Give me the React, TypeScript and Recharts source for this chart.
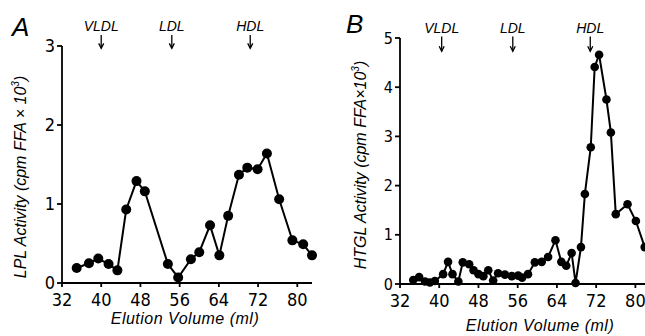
import React from "react";
import { LineChart, Line, XAxis, YAxis, ReferenceLine } from "recharts";

// Panel A: lipoprotein lipase activity across the elution profile
const lplVolume = [35, 37.5, 39.4, 41.5, 43.3, 45.1, 47.2, 48.9, 53.6, 55.7, 58.3, 60.0, 62.2, 64.1, 65.9, 68.1, 69.8, 71.9, 73.8, 76.3, 79.0, 81.2, 83.0];
const lplActivity = [0.19, 0.25, 0.31, 0.24, 0.16, 0.93, 1.29, 1.16, 0.24, 0.07, 0.3, 0.39, 0.73, 0.35, 0.85, 1.37, 1.46, 1.44, 1.64, 1.06, 0.54, 0.49, 0.35];

// Panel B: hepatic triglyceride lipase activity
const htglVolume = [34.7, 35.9, 37.1, 38.1, 39.1, 40.8, 41.8, 42.7, 43.9, 44.8, 46.1, 47.0, 48.0, 49.0, 50.0, 51.0, 52.0, 53.4, 54.8, 56.1, 56.9, 58.1, 59.5, 60.9, 62.2, 63.7, 64.9, 65.9, 67.0, 67.8, 68.9, 69.7, 70.9, 71.7, 72.6, 74.1, 75.0, 76.0, 78.4, 80.1, 81.9];
const htglActivity = [0.08, 0.14, 0.05, 0.03, 0.06, 0.2, 0.45, 0.2, 0.05, 0.44, 0.4, 0.28, 0.2, 0.16, 0.28, 0.07, 0.22, 0.19, 0.16, 0.17, 0.13, 0.2, 0.44, 0.45, 0.55, 0.89, 0.45, 0.37, 0.63, 0.02, 0.75, 1.83, 2.78, 4.41, 4.66, 3.75, 3.08, 1.42, 1.62, 1.28, 0.75];

const markerNames = ["VLDL", "LDL", "HDL"];
const markerVolumeA = [40, 54.4, 70.4];
const markerVolumeB = [40.5, 55, 70.8];

const xTicks = [32, 40, 48, 56, 64, 72, 80];
const yTicksA = [0, 1, 2, 3];
const yTicksB = [0, 1, 2, 3, 4, 5];

const lplData = lplVolume.map((v, i) => ({ v, a: lplActivity[i] }));
const htglData = htglVolume.map((v, i) => ({ v, a: htglActivity[i] }));

const FONT = "'Liberation Sans Narrow', 'DejaVu Sans Condensed', 'Liberation Sans', sans-serif";
const ITALIC = "'Liberation Sans', 'DejaVu Sans', sans-serif";

function Arrow(props: any) {
  const { x1, y1, x2, y2, name } = props;
  if (x1 == null) return null;
  return (
    <g>
      <line x1={x1} y1={y1} x2={x2} y2={y2} stroke="#000" strokeWidth={1.3} />
      <path d={`M${x2 - 2.5},${y2 - 5} L${x2},${y2} L${x2 + 2.5},${y2 - 5}`} fill="none" stroke="#000" strokeWidth={1.3} />
      <text x={x1} y={y1 - 4} textAnchor="middle" fontSize={14} fontStyle="italic" fontFamily={ITALIC} fill="#000">
        {name}
      </text>
    </g>
  );
}

const abs = (s: React.CSSProperties): React.CSSProperties => ({ position: "absolute", color: "#000", ...s });

export default function App() {
  const tick = { fontSize: 18, fill: "#000", fontFamily: FONT };
  const axis = { stroke: "#000", strokeWidth: 1.8 };
  return (
    <div style={{ position: "fixed", left: 0, top: 0, width: 645, height: 336, overflow: "hidden", background: "#fff" }}>
      <div style={{ position: "absolute", left: 0, top: 0 }}>
        <LineChart width={330} height={336} data={lplData} margin={{ top: 46, right: 18, bottom: 23, left: 0 }}>
          <XAxis dataKey="v" type="number" domain={[32, 83]} ticks={xTicks} tick={tick} tickSize={4} tickMargin={6} axisLine={axis} tickLine={axis} height={30} />
          <YAxis type="number" domain={[0, 3]} ticks={yTicksA} tick={tick} tickSize={5} tickMargin={2} axisLine={axis} tickLine={axis} width={62} />
          {markerNames.map((n, i) => (
            <ReferenceLine key={n} ifOverflow="visible" segment={[{ x: markerVolumeA[i], y: 3.14 }, { x: markerVolumeA[i], y: 2.97 }]} shape={(p: any) => <Arrow {...p} name={n} />} />
          ))}
          <Line type="linear" dataKey="a" stroke="#000" strokeWidth={2} dot={{ r: 5, fill: "#000", stroke: "#000", strokeWidth: 0 }} isAnimationActive={false} />
        </LineChart>
      </div>
      <div style={{ position: "absolute", left: 330, top: 0 }}>
        <LineChart width={340} height={336} data={htglData} margin={{ top: 38, right: 15, bottom: 22, left: 0 }}>
          <XAxis dataKey="v" type="number" domain={[32, 84]} ticks={xTicks} tick={tick} tickSize={4} tickMargin={6} axisLine={axis} tickLine={axis} height={30} allowDataOverflow />
          <YAxis type="number" domain={[0, 5]} ticks={yTicksB} tick={{ ...tick, fontSize: 16 }} tickSize={5} tickMargin={2} axisLine={axis} tickLine={axis} width={70} />
          {markerNames.map((n, i) => (
            <ReferenceLine key={n} ifOverflow="visible" segment={[{ x: markerVolumeB[i], y: 5.03 }, { x: markerVolumeB[i], y: 4.73 }]} shape={(p: any) => <Arrow {...p} name={n} />} />
          ))}
          <Line type="linear" dataKey="a" stroke="#000" strokeWidth={2} dot={{ r: 4.3, fill: "#000", stroke: "#000", strokeWidth: 0 }} isAnimationActive={false} />
        </LineChart>
      </div>

      <div style={abs({ left: 12, top: 14, fontSize: 26, lineHeight: "26px", fontStyle: "italic", fontFamily: ITALIC })}>A</div>
      <div style={abs({ left: 346, top: 11, fontSize: 26, lineHeight: "26px", fontStyle: "italic", fontFamily: ITALIC })}>B</div>

      <div style={abs({ left: 20, top: 177, transform: "translate(-50%, -50%) rotate(-90deg)", whiteSpace: "nowrap", fontSize: 16, fontStyle: "italic", fontFamily: ITALIC })}>
        LPL Activity (cpm FFA × 10<sup style={{ fontSize: 10 }}>3</sup>)
      </div>
      <div style={abs({ left: 360, top: 165, transform: "translate(-50%, -50%) rotate(-90deg)", whiteSpace: "nowrap", fontSize: 16, fontStyle: "italic", fontFamily: ITALIC })}>
        HTGL Activity (cpm FFA×10<sup style={{ fontSize: 10 }}>3</sup>)
      </div>

      <div style={abs({ left: 185, top: 319, transform: "translate(-50%, -50%)", whiteSpace: "nowrap", fontSize: 16, fontStyle: "italic", fontFamily: ITALIC, letterSpacing: 0.5 })}>
        Elution Volume (ml)
      </div>
      <div style={abs({ left: 540, top: 326, transform: "translate(-50%, -50%)", whiteSpace: "nowrap", fontSize: 16, fontStyle: "italic", fontFamily: ITALIC, letterSpacing: 0.5 })}>
        Elution Volume (ml)
      </div>
    </div>
  );
}
